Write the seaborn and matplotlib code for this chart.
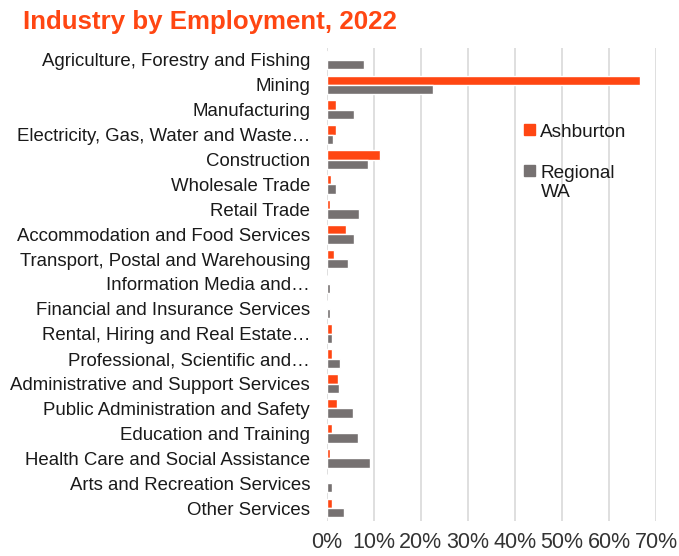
import matplotlib
matplotlib.use("Agg")
import matplotlib.pyplot as plt
import matplotlib.patches as mpatches
import seaborn as sns
import pandas as pd
from matplotlib.ticker import MultipleLocator, FuncFormatter

# industry categories, top to bottom
industries = [
    "Agriculture, Forestry and Fishing",
    "Mining",
    "Manufacturing",
    "Electricity, Gas, Water and Waste\u2026",
    "Construction",
    "Wholesale Trade",
    "Retail Trade",
    "Accommodation and Food Services",
    "Transport, Postal and Warehousing",
    "Information Media and\u2026",
    "Financial and Insurance Services",
    "Rental, Hiring and Real Estate\u2026",
    "Professional, Scientific and\u2026",
    "Administrative and Support Services",
    "Public Administration and Safety",
    "Education and Training",
    "Health Care and Social Assistance",
    "Arts and Recreation Services",
    "Other Services",
]

# share of employment (%)
ashburton = [0.2, 66.7, 1.9, 1.9, 11.3, 0.9, 0.7, 4.1, 1.5, 0.1, 0.0, 1.1, 1.2, 2.4, 2.1, 1.2, 0.6, 0.0, 1.1]
regional_wa = [7.9, 22.7, 5.7, 1.3, 8.7, 1.9, 6.9, 5.9, 4.6, 0.6, 0.7, 1.1, 2.9, 2.6, 5.5, 6.7, 9.3, 1.2, 3.6]

series_names = ["Ashburton", "Regional\nWA"]
orange = "#FF4612"
grey = "#767171"

n = len(industries)
df = pd.DataFrame({
    "Industry": industries * 2,
    "Share": ashburton + regional_wa,
    "Area": [series_names[0]] * n + [series_names[1]] * n,
})

sns.set_style("white")
plt.rcParams['font.family'] = ['Liberation Sans', 'DejaVu Sans']

fig = plt.figure(figsize=(6.79, 5.56), dpi=100)
ax = fig.add_axes([326.7 / 679, 1 - 520.5 / 556, (656 - 326.7) / 679, (520.5 - 47.5) / 556])

sns.barplot(data=df, y="Industry", x="Share", hue="Area", orient="h",
            palette=[orange, grey], width=0.75, saturation=1, ax=ax, legend=False)

ax.set_xlim(0, 70)
ax.xaxis.set_major_locator(MultipleLocator(10))
ax.xaxis.set_major_formatter(FuncFormatter(lambda v, p: f"{v:.0f}%"))
ax.grid(axis="x", color="#D9D9D9", linewidth=1.2)
ax.set_axisbelow(True)
for s in ["top", "right", "bottom", "left"]:
    ax.spines[s].set_visible(False)
ax.tick_params(axis="x", length=0, pad=8, labelsize=15.5, labelcolor="#333333")
ax.tick_params(axis="y", length=0, pad=12, labelsize=13.4, labelcolor="#1a1a1a")
ax.set_xlabel("")
ax.set_ylabel("")

handles = [mpatches.Patch(color=orange), mpatches.Patch(color=grey)]
leg = ax.legend(handles, series_names, loc="upper left", bbox_to_anchor=(0.548, 0.875),
                frameon=False, fontsize=13.7, handlelength=0.55, handleheight=0.55,
                handletextpad=0.3, labelspacing=1.25)
# keep the swatch level with the first line of a two-line label
for row in leg._legend_handle_box.get_children()[0].get_children():
    row.align = "top"
for t in leg.get_texts():
    t.set_color("#1a1a1a")

fig.text(23 / 679, 1 - 22 / 556, "Industry by Employment, 2022", color=orange,
         fontsize=18.6, fontweight="bold", va="center", ha="left")

fig.savefig("out.png", dpi=100)
